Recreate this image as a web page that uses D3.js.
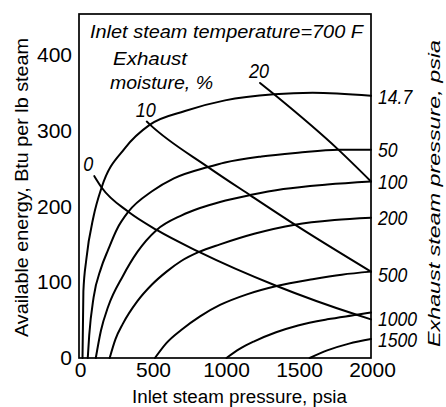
<!DOCTYPE html>
<html>
<head>
<meta charset="utf-8">
<title>Available energy vs inlet steam pressure</title>
<style>
body { margin: 0; background: #fff; }
svg { display: block; }
.curve { fill: none; stroke: #000; stroke-width: 2px; stroke-linecap: round; }
.frame { fill: none; stroke: #000; stroke-width: 1.7px; }
text { font-family: "Liberation Sans", Arial, sans-serif; fill: #000; }
.ital { font-style: italic; }
</style>
</head>
<body>
<script src="https://cdn.jsdelivr.net/npm/d3@7"></script>
<script>

// inlet steam pressure (psia) vs available energy (Btu/lb), one array per exhaust pressure
var curve14_7 = [[24,0],[30,88],[50,130],[100,187],[155,225],[315,277],[486,308],[726,326],[1000,340],[1336,348],[1600,350],[2000,346]];
var curve50   = [[60,0],[70,30],[100,80],[150,118],[200,143],[260,170],[338,193],[500,220],[650,237],[884,252],[1000,258],[1250,266],[1500,271],[1776,275],[2000,275]];
var curve100  = [[115,0],[150,36],[200,68],[300,108],[400,140],[532,169],[700,188],[829,198],[966,206],[1171,215],[1400,223],[1700,229],[2000,233]];
var curve200  = [[210,0],[250,25],[300,45],[400,75],[500,97],[600,114],[700,128],[822,140],[966,150],[1200,164],[1479,176],[1750,182],[2000,185]];
var curve500  = [[520,0],[600,20],[700,37],[829,55],[966,70],[1150,84],[1354,95],[1600,104],[1800,110],[2000,114]];
var curve1000 = [[1010,0],[1100,12],[1200,22],[1350,34],[1500,43],[1700,51],[1902,57],[2000,60]];
var curve1500 = [[1580,0],[1700,10],[1850,19],[2000,25]];

var exhaustLabels = ["14.7", "50", "100", "200", "500", "1000", "1500"];
var exhaustCurves = [curve14_7, curve50, curve100, curve200, curve500, curve1000, curve1500];

// constant exhaust moisture lines
var moist0  = [[105,240],[155,225],[338,193],[532,169],[822,140],[1354,95],[1902,57],[2000,51]];
var moist10 = [[464,312],[486,308],[884,252],[1171,215],[1479,176],[2000,114]];
var moist20 = [[1240,363],[1336,348],[1776,275],[2000,233]];

var moistureLabels = ["0", "10", "20"];
var moistureLines = [moist0, moist10, moist20];

var xTicks = [0, 500, 1000, 1500, 2000];
var yTicks = [0, 100, 200, 300, 400];

var width = 446, height = 407;

var x = d3.scaleLinear().domain([0, 2000]).range([79, 371]);
var y = d3.scaleLinear().domain([0, 454]).range([358, 14]);

var svg = d3.select("body").append("svg")
    .attr("width", width)
    .attr("height", height);

var line = d3.line()
    .x(function(d) { return x(d[0]); })
    .y(function(d) { return y(d[1]); })
    .curve(d3.curveMonotoneX);

// frame
svg.append("rect")
    .attr("class", "frame")
    .attr("x", x(0))
    .attr("y", y(454))
    .attr("width", x(2000) - x(0))
    .attr("height", y(0) - y(454));

// axes (labels only)
var yAxis = svg.append("g")
    .attr("transform", "translate(" + x(0) + ",0)")
    .call(d3.axisLeft(y).tickValues(yTicks).tickSize(0).tickPadding(7).tickFormat(d3.format("d")));
yAxis.select(".domain").remove();
yAxis.selectAll("text").style("font-size", "21px").style("font-family", "Liberation Sans, Arial, sans-serif");

var xAxis = svg.append("g")
    .attr("transform", "translate(1," + y(0) + ")")
    .call(d3.axisBottom(x).tickValues(xTicks).tickSize(0).tickPadding(4).tickFormat(d3.format("d")));
xAxis.select(".domain").remove();
xAxis.selectAll("text").style("font-size", "21px").style("font-family", "Liberation Sans, Arial, sans-serif");

// exhaust pressure curves
svg.append("g").selectAll("path")
    .data(exhaustCurves)
    .enter().append("path")
    .attr("class", "curve")
    .attr("d", line);

// moisture lines
svg.append("g").selectAll("path")
    .data(moistureLines)
    .enter().append("path")
    .attr("class", "curve")
    .attr("d", line);

// right-hand labels at curve ends
var nudge = [1, 0, 0, 0, 3, 6, 1];
svg.append("g").selectAll("text")
    .data(exhaustCurves)
    .enter().append("text")
    .attr("class", "ital")
    .attr("transform", function(d, i) {
        var last = d[d.length - 1];
        return "translate(378," + (y(last[1]) + nudge[i]) + ") scale(0.88,1)";
    })
    .attr("dy", "0.36em")
    .style("font-size", "20px")
    .text(function(d, i) { return exhaustLabels[i]; });

// moisture labels at line starts
svg.append("g").selectAll("text")
    .data(moistureLines)
    .enter().append("text")
    .attr("class", "ital")
    .attr("transform", function(d) {
        return "translate(" + (x(d[0][0]) - 11) + "," + (y(d[0][1]) - 5) + ") scale(0.9,1)";
    })
    .style("font-size", "20px")
    .text(function(d, i) { return moistureLabels[i]; });

// notes inside the plot
svg.append("text").attr("class", "ital")
    .attr("x", 90).attr("y", 38)
    .attr("textLength", 273).attr("lengthAdjust", "spacingAndGlyphs")
    .style("font-size", "18px")
    .text("Inlet steam temperature=700 F");

svg.append("text").attr("class", "ital")
    .attr("x", 113).attr("y", 65)
    .attr("textLength", 74).attr("lengthAdjust", "spacingAndGlyphs")
    .style("font-size", "18px")
    .text("Exhaust");

svg.append("text").attr("class", "ital")
    .attr("x", 110).attr("y", 89)
    .attr("textLength", 103).attr("lengthAdjust", "spacingAndGlyphs")
    .style("font-size", "18px")
    .text("moisture, %");

// axis titles
svg.append("text")
    .attr("x", 239.5).attr("y", 403)
    .attr("text-anchor", "middle")
    .attr("textLength", 215).attr("lengthAdjust", "spacingAndGlyphs")
    .style("font-size", "18px")
    .text("Inlet steam pressure, psia");

svg.append("text")
    .attr("transform", "translate(28,187.5) rotate(-90)")
    .attr("text-anchor", "middle")
    .attr("textLength", 299).attr("lengthAdjust", "spacingAndGlyphs")
    .style("font-size", "19px")
    .text("Available energy, Btu per lb steam");

svg.append("text")
    .attr("class", "ital")
    .attr("transform", "translate(440,193.5) rotate(-90)")
    .attr("text-anchor", "middle")
    .attr("textLength", 307).attr("lengthAdjust", "spacingAndGlyphs")
    .style("font-size", "17px")
    .text("Exhaust steam pressure, psia");

</script>
</body>
</html>
